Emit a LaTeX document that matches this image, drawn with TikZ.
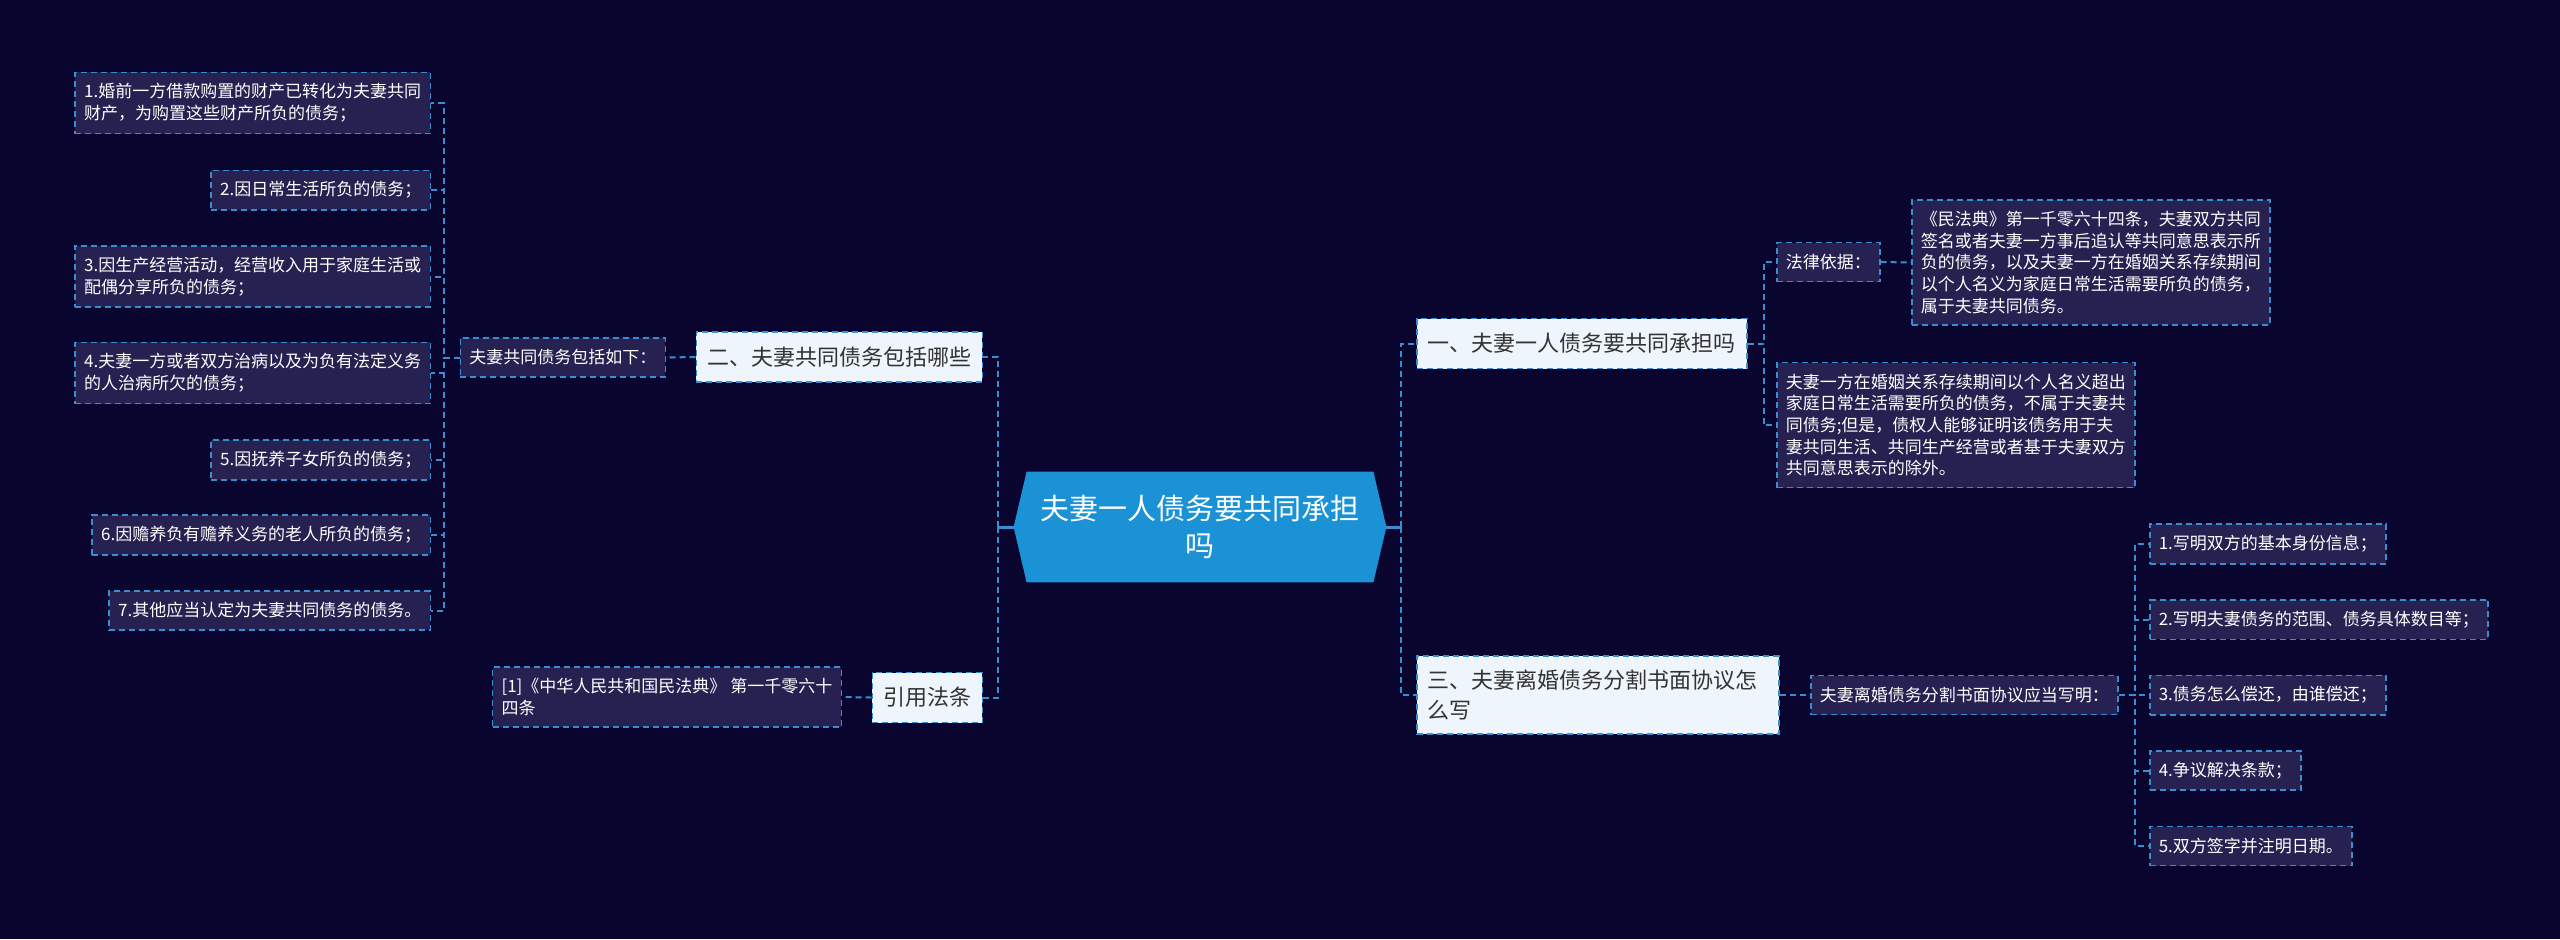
\documentclass[tikz,border=0pt]{standalone}
\usepackage{fontspec}
\setmainfont{Noto Sans CJK SC}
\usepackage{tikz}
\usetikzlibrary{backgrounds}
\definecolor{bgcol}{HTML}{0A052E}
\definecolor{boxcol}{HTML}{262150}
\definecolor{linecol}{HTML}{3A8DD0}
\definecolor{paper}{HTML}{EEF5FD}
\definecolor{rootcol}{HTML}{1A92D5}
\definecolor{inkcol}{HTML}{333333}

\begin{document}
\begin{tikzpicture}[
    x=0.5pt, y=-0.5pt,
    mainbox/.style={minimum width=186pt, minimum height=55pt, inner sep=0pt, align=center, text=white, font=\fontsize{14.5pt}{18.5pt}\selectfont},
    topic/.style={draw=linecol, fill=paper, line width=0.75pt, dash pattern=on 3pt off 2pt, text=inkcol, align=left, inner xsep=5.5pt, inner ysep=7pt, minimum height=25pt, font=\fontsize{11pt}{15pt}\selectfont},
    leaf/.style={draw=linecol, fill=boxcol, line width=0.75pt, dash pattern=on 3pt off 2pt, text=white, align=left, inner xsep=4.5pt, inner ysep=5.6pt, minimum height=19.5pt, font=\fontsize{8.5pt}{10.85pt}\selectfont},
    link/.style={draw=linecol, line width=1pt, dash pattern=on 3pt off 2pt},
    stem/.style={draw=linecol, line width=1.5pt}
]
\useasboundingbox (0,0) rectangle (2560,939);

\node[mainbox] (root) at (1200,527) {夫妻一人债务要共同承担\\吗};
\coordinate (hubL) at (998,527);
\coordinate (hubR) at (1401,527);

\node[topic, anchor=east] (L2) at (983,357) {二、夫妻共同债务包括哪些};
\node[leaf, anchor=east] (sub2) at (666,357.5) {夫妻共同债务包括如下：};
\node[leaf, anchor=east] (i1) at (431,103) {1.婚前一方借款购置的财产已转化为夫妻共同\\财产，为购置这些财产所负的债务；};
\node[leaf, anchor=east] (i2) at (431,190) {2.因日常生活所负的债务；};
\node[leaf, anchor=east] (i3) at (431,276.5) {3.因生产经营活动，经营收入用于家庭生活或\\配偶分享所负的债务；};
\node[leaf, anchor=east] (i4) at (431,373) {4.夫妻一方或者双方治病以及为负有法定义务\\的人治病所欠的债务；};
\node[leaf, anchor=east] (i5) at (431,460) {5.因抚养子女所负的债务；};
\node[leaf, anchor=east] (i6) at (431,535) {6.因赡养负有赡养义务的老人所负的债务；};
\node[leaf, anchor=east] (i7) at (431,610.5) {7.其他应当认定为夫妻共同债务的债务。};

\node[topic, anchor=east] (ref) at (983,697.5) {引用法条};
\node[leaf, anchor=east] (refnote) at (842,697) {[1]《中华人民共和国民法典》\ 第一千零六十\\四条};

\node[topic, anchor=west] (L1) at (1416,343.5) {一、夫妻一人债务要共同承担吗};
\node[leaf, anchor=west] (basis) at (1776,262) {法律依据：};
\node[leaf, anchor=west] (basistext) at (1911,262.5) {《民法典》第一千零六十四条，夫妻双方共同\\签名或者夫妻一方事后追认等共同意思表示所\\负的债务，以及夫妻一方在婚姻关系存续期间\\以个人名义为家庭日常生活需要所负的债务，\\属于夫妻共同债务。};
\node[leaf, anchor=west] (except) at (1776,425) {夫妻一方在婚姻关系存续期间以个人名义超出\\家庭日常生活需要所负的债务，不属于夫妻共\\同债务;但是，债权人能够证明该债务用于夫\\妻共同生活、共同生产经营或者基于夫妻双方\\共同意思表示的除外。};

\node[topic, anchor=west, text width=170pt] (L3) at (1416,695) {三、夫妻离婚债务分割书面协议怎\\么写};
\node[leaf, anchor=west] (sub3) at (1810,695) {夫妻离婚债务分割书面协议应当写明：};
\node[leaf, anchor=west] (r1) at (2149,544) {1.写明双方的基本身份信息；};
\node[leaf, anchor=west] (r2) at (2149,619.5) {2.写明夫妻债务的范围、债务具体数目等；};
\node[leaf, anchor=west] (r3) at (2149,695) {3.债务怎么偿还，由谁偿还；};
\node[leaf, anchor=west] (r4) at (2149,770.5) {4.争议解决条款；};
\node[leaf, anchor=west] (r5) at (2149,846) {5.双方签字并注明日期。};

\begin{scope}[on background layer]
\fill[bgcol] (0,0) rectangle (2560,939);
\fill[rootcol] ([xshift=6.5pt]root.north west) -- ([xshift=-6.5pt]root.north east) -- (root.east)
    -- ([xshift=-6.5pt]root.south east) -- ([xshift=6.5pt]root.south west) -- (root.west) -- cycle;
\end{scope}

\draw[stem] (root.west) -- (hubL);
\draw[stem] (root.east) -- (hubR);
\draw[link] (hubL) |- (L2.east);
\draw[link] (hubL) |- (ref.east);
\draw[link] (hubR) |- (L1.west);
\draw[link] (hubR) |- (L3.west);

\draw[link] (L2.west) -- (sub2.east);
\draw[link] (sub2.west) -- ([xshift=-8pt]sub2.west) |- (i1.east);
\draw[link] (sub2.west) -- ([xshift=-8pt]sub2.west) |- (i2.east);
\draw[link] (sub2.west) -- ([xshift=-8pt]sub2.west) |- (i3.east);
\draw[link] (sub2.west) -- ([xshift=-8pt]sub2.west) |- (i4.east);
\draw[link] (sub2.west) -- ([xshift=-8pt]sub2.west) |- (i5.east);
\draw[link] (sub2.west) -- ([xshift=-8pt]sub2.west) |- (i6.east);
\draw[link] (sub2.west) -- ([xshift=-8pt]sub2.west) |- (i7.east);
\draw[link] (ref.west) -- (refnote.east);

\draw[link] (L1.east) -- ([xshift=8pt]L1.east) |- (basis.west);
\draw[link] (L1.east) -- ([xshift=8pt]L1.east) |- (except.west);
\draw[link] (basis.east) -- (basistext.west);

\draw[link] (L3.east) -- (sub3.west);
\draw[link] (sub3.east) -- ([xshift=8pt]sub3.east) |- (r1.west);
\draw[link] (sub3.east) -- ([xshift=8pt]sub3.east) |- (r2.west);
\draw[link] (sub3.east) -- ([xshift=8pt]sub3.east) |- (r3.west);
\draw[link] (sub3.east) -- ([xshift=8pt]sub3.east) |- (r4.west);
\draw[link] (sub3.east) -- ([xshift=8pt]sub3.east) |- (r5.west);
\end{tikzpicture}
\end{document}
